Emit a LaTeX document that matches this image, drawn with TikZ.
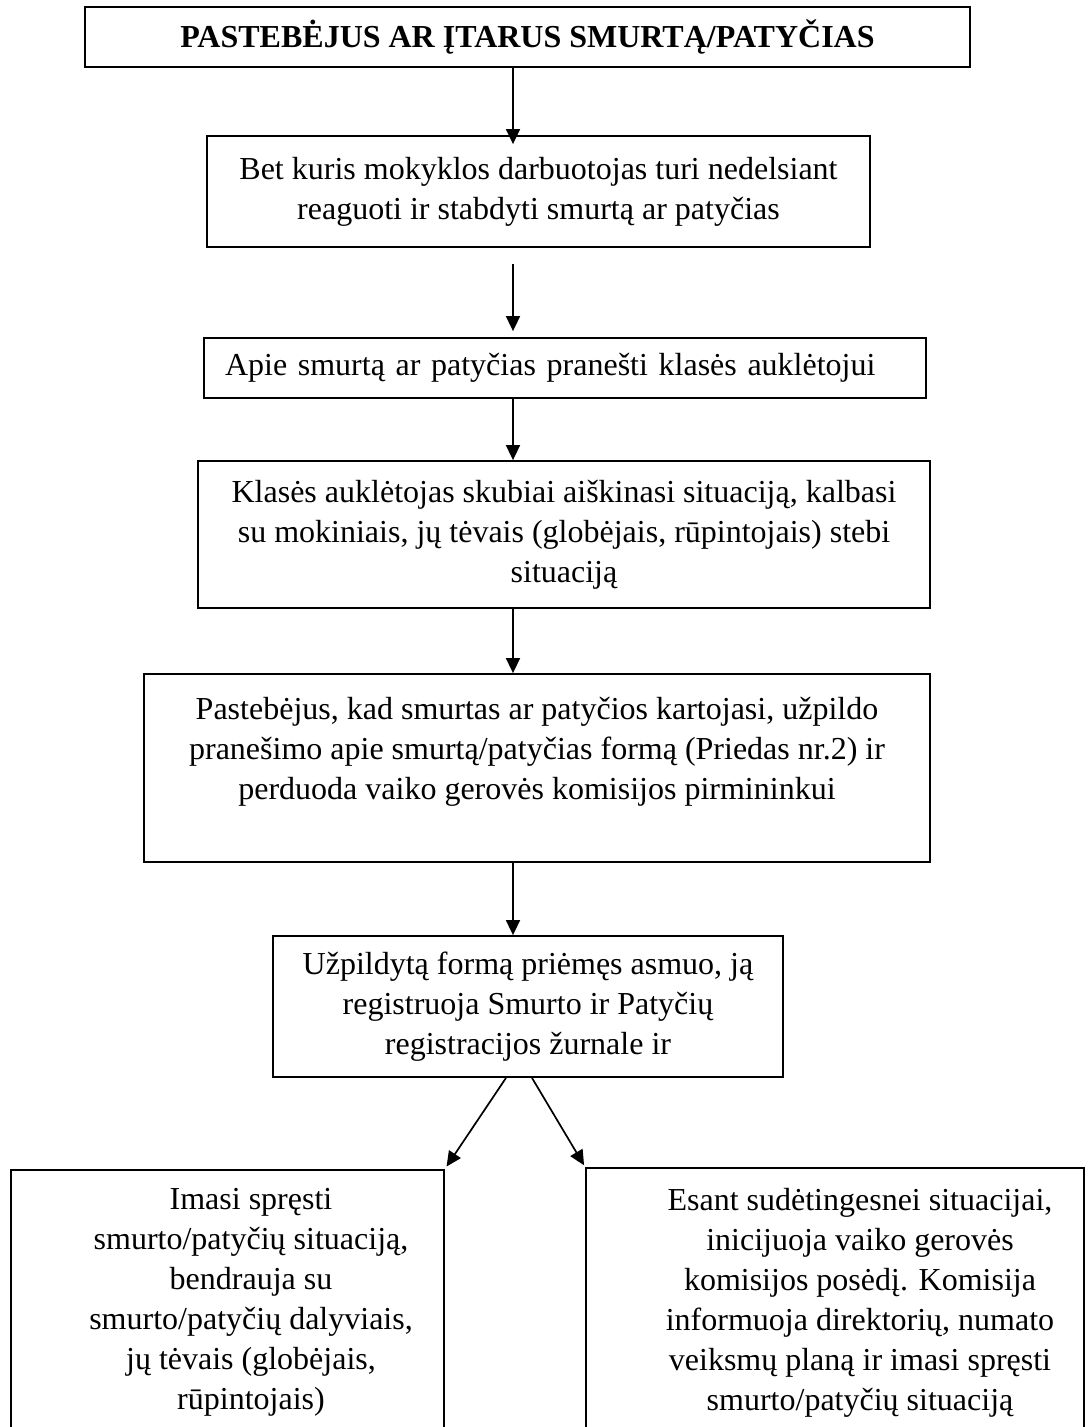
\documentclass[tikz,border=0pt]{standalone}
\usepackage{fontspec}
\setmainfont{Liberation Serif}
\usetikzlibrary{arrows.meta}
\newcommand\boxfont{\fontsize{32}{40}\selectfont}
\begin{document}
\begin{tikzpicture}[x=1pt,y=-1pt,
    box/.style={draw,line width=1.8pt,align=center,inner sep=0pt,font=\boxfont},
    txt/.style={align=center,inner sep=0pt,font=\boxfont},
    arr/.style={-{Triangle[length=15pt,width=14pt]},line width=1.7pt}]

        \useasboundingbox (0,0) rectangle (1087,1427);
        \clip (0,0) rectangle (1087,1427);
        \coordinate (axis) at (513,0);

        \node[box,minimum width=885pt,minimum height=60pt,font=\boxfont\bfseries] (title) at (527.5,37) {PASTEBĖJUS AR ĮTARUS SMURTĄ/PATYČIAS};
        \node[box,minimum width=663pt,minimum height=111pt] (reaguoti) at (538.5,191.5) {Bet kuris mokyklos darbuotojas turi nedelsiant\\reaguoti ir stabdyti smurtą ar patyčias};
        \node[box,minimum width=722pt,minimum height=60pt,text width=680pt,align=left] (pranesti) at (565,368) {Apie smurtą ar patyčias pranešti klasės auklėtojui};
        \node[box,minimum width=732pt,minimum height=147pt] (aiskinasi) at (564,534.5) {Klasės auklėtojas skubiai aiškinasi situaciją, kalbasi\\su mokiniais, jų tėvais (globėjais, rūpintojais) stebi\\situaciją};
        \node[box,minimum width=786pt,minimum height=188pt] (uzpildo) at (537,768) {Pastebėjus, kad smurtas ar patyčios kartojasi, užpildo\\pranešimo apie smurtą/patyčias formą (Priedas nr.2) ir\\perduoda vaiko gerovės komisijos pirmininkui\\ \mbox{}};
        \node[box,minimum width=510pt,minimum height=141pt] (registruoja) at (528,1006.5) {Užpildytą formą priėmęs asmuo, ją\\registruoja Smurto ir Patyčių\\registracijos žurnale ir};
        \node[box,minimum width=433pt,minimum height=300pt,anchor=north] (sprendzia) at (227.5,1169) {};
        \node[box,minimum width=498pt,minimum height=300pt,anchor=north] (komisija) at (835,1167) {};
        \node[txt,anchor=north] (sprendziatxt) at (251,1188) {Imasi spręsti\\smurto/patyčių situaciją,\\bendrauja su\\smurto/patyčių dalyviais,\\jų tėvais (globėjais,\\rūpintojais)};
        \node[txt,anchor=north] (komisijatxt) at (860,1188) {Esant sudėtingesnei situacijai,\\inicijuoja vaiko gerovės\\komisijos posėdį. Komisija\\informuoja direktorių, numato\\veiksmų planą ir imasi spręsti\\smurto/patyčių situaciją};

        \draw[arr,shorten >=-9pt] (title.south -| axis) -- (reaguoti.north -| axis);
        \draw[arr,shorten <=16pt,shorten >=6pt] (reaguoti.south -| axis) -- (pranesti.north -| axis);
        \draw[arr] (pranesti.south -| axis) -- (aiskinasi.north -| axis);
        \draw[arr] (aiskinasi.south -| axis) -- (uzpildo.north -| axis);
        \draw[arr] (uzpildo.south -| axis) -- (registruoja.north -| axis);
        \draw[arr,shorten >=3pt] ([xshift=-22pt]registruoja.south) -- (sprendzia.north east);
        \draw[arr,shorten >=2pt] ([xshift=4pt]registruoja.south) -- (komisija.north west);
      \end{tikzpicture}
\end{document}
